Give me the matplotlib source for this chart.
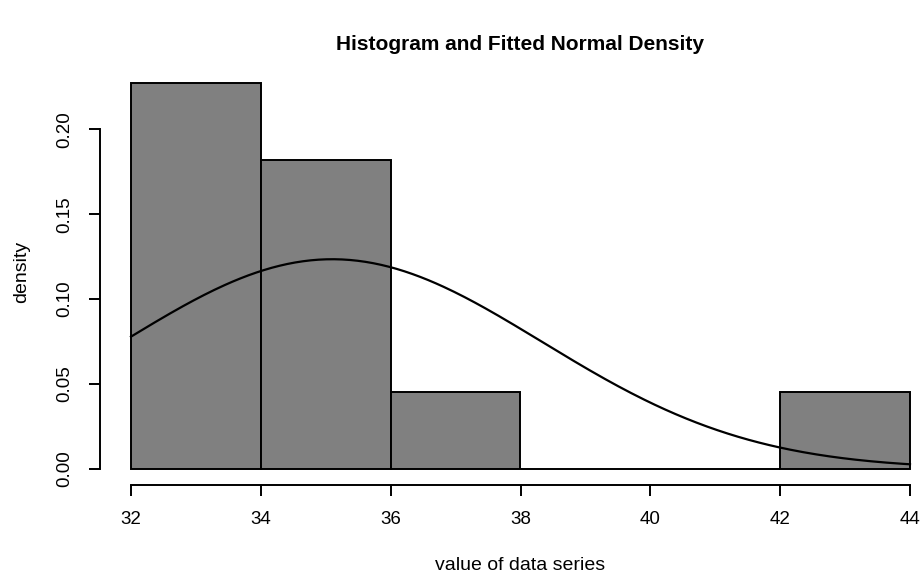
import numpy as np
import matplotlib.pyplot as plt

# histogram bins (left edges, width 2) and densities
bin_edges = [32, 34, 36, 38, 40, 42, 44]
counts = [10, 8, 2, 0, 0, 2]
n_obs = 22
# fitted normal parameters
mu = 35.1
sigma = 3.23

plt.rcParams['font.family'] = ['Liberation Sans', 'DejaVu Sans']

W, H = 924, 577
fig = plt.figure(figsize=(W / 100, H / 100), dpi=100)
ax = fig.add_axes([131 / W, 1 - 469 / H, (910 - 131) / W, (469 - 83) / H])

widths = np.diff(bin_edges)
dens = np.array(counts) / (n_obs * widths)
ax.bar(bin_edges[:-1], dens, width=widths, align='edge', color='#808080',
       edgecolor='black', linewidth=1.4, clip_on=False)

xs = np.linspace(32, 44, 300)
ys = np.exp(-(xs - mu) ** 2 / (2 * sigma ** 2)) / (sigma * np.sqrt(2 * np.pi))
ax.plot(xs, ys, color='black', linewidth=1.6, clip_on=False)

ax.set_xlim(32, 44)
ax.set_ylim(0, dens.max())

px = 72 / 100  # points per pixel
ax.spines['top'].set_visible(False)
ax.spines['right'].set_visible(False)
ax.spines['bottom'].set_position(('outward', 16 * px))
ax.spines['left'].set_position(('outward', 31 * px))
ax.spines['bottom'].set_bounds(32, 44)
ax.spines['left'].set_bounds(0, 0.2)
for s in ('bottom', 'left'):
    ax.spines[s].set_linewidth(1.4)

ax.set_xticks(range(32, 45, 2))
ax.set_yticks([0, 0.05, 0.10, 0.15, 0.20])
ax.set_yticklabels(['0.00', '0.05', '0.10', '0.15', '0.20'], rotation=90, va='center')
ax.tick_params(axis='both', length=11 * px, width=1.4, labelsize=13.5)
ax.tick_params(axis='x', pad=15 * px)
ax.tick_params(axis='y', pad=16 * px)

fig.text(520 / W, 1 - 565 / H, 'value of data series', ha='center', va='center', fontsize=14)
fig.text(22 / W, 1 - 272 / H, 'density', ha='center', va='center', fontsize=14, rotation=90)
fig.text(520 / W, 1 - 45 / H, 'Histogram and Fitted Normal Density',
         ha='center', va='center', fontsize=15, fontweight='bold')

fig.savefig('out.png', dpi=100)
